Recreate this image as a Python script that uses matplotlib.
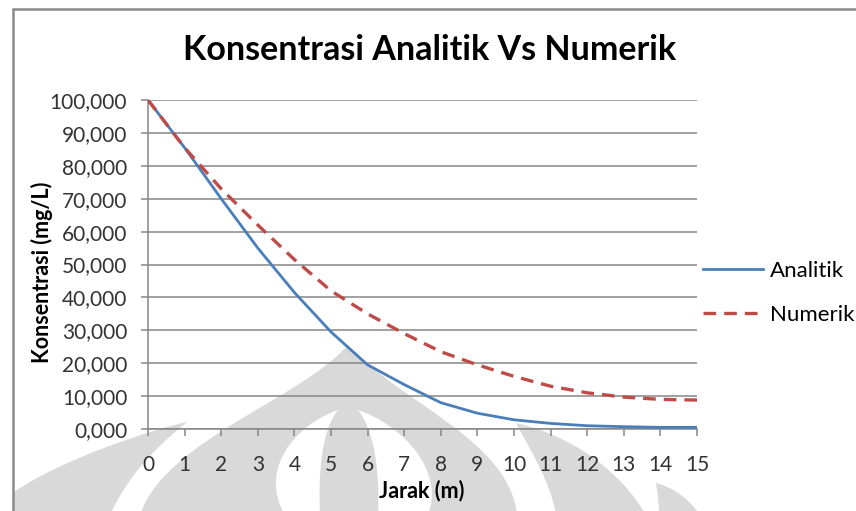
import matplotlib.pyplot as plt
from matplotlib.path import Path
from matplotlib.patches import PathPatch

plt.rcParams['font.family'] = ['Lato', 'DejaVu Sans']

# konsentrasi (mg/L) pada tiap jarak (m)
jarak = [0, 1, 2, 3, 4, 5, 6, 7, 8, 9, 10, 11, 12, 13, 14, 15]
analitik = [100000, 85500, 70000, 55000, 41500, 29500, 19500, 13500,
            8000, 4800, 2800, 1700, 1000, 700, 500, 500]
numerik = [100000, 85500, 73000, 62000, 51500, 42000, 35000, 29000,
           23500, 19500, 16000, 13000, 11000, 9700, 9000, 8800]

y_ticks = list(range(0, 100001, 10000))
y_labels = [f"{v // 1000},000" for v in y_ticks]

GRAY = '#868686'
WM = '#d9d9d9'

fig = plt.figure(figsize=(8.56, 5.11), dpi=100)

# lapisan belakang: logo samar + bingkai, dalam koordinat piksel
bg = fig.add_axes([0, 0, 1, 1], zorder=0)
bg.set_xlim(0, 856)
bg.set_ylim(511, 0)
bg.axis('off')

M, C, L, Z = Path.MOVETO, Path.CURVE4, Path.LINETO, Path.CLOSEPOLY


def blob(verts, codes, color):
    bg.add_patch(PathPatch(Path(verts, codes), facecolor=color,
                           edgecolor='none'))


# kubah tengah (ujung runcing)
blob([(140, 515), (165, 440), (300, 400), (348, 345),
      (396, 400), (510, 440), (517, 515), (140, 515), (140, 515)],
     [M, C, C, C, C, C, C, L, Z], WM)
# kelopak putih di dalam kubah
blob([(338, 410), (295, 425), (258, 470), (285, 515),
      (320, 515), (318, 470), (322, 430), (338, 410), (338, 410)],
     [M, C, C, C, L, C, C, C, Z], 'white')
blob([(358, 410), (374, 430), (380, 470), (378, 515),
      (428, 515), (445, 470), (402, 425), (358, 410), (358, 410)],
     [M, C, C, C, L, C, C, C, Z], 'white')
# sayap kiri dan kanan
blob([(187, 422), (150, 430), (60, 460), (14, 492),
      (14, 515), (110, 515), (130, 470), (165, 440), (187, 422), (187, 422)],
     [M, C, C, C, L, L, C, C, C, Z], WM)
blob([(516, 423), (530, 450), (550, 480), (556, 515),
      (646, 515), (620, 470), (570, 435), (516, 423), (516, 423)],
     [M, C, C, C, L, C, C, C, Z], WM)
blob([(656, 483), (658, 495), (659, 505), (659, 515),
      (700, 515), (690, 500), (675, 488), (656, 483), (656, 483)],
     [M, C, C, C, L, C, C, C, Z], WM)

bg.plot([13, 13, 860], [515, 9, 9], color='#8a8a8a', lw=1.8,
        solid_joinstyle='miter')

ax = fig.add_axes([148 / 856, 1 - 429 / 511, 549 / 856, 329 / 511], zorder=1)
ax.patch.set_alpha(0)

ax.plot(jarak, analitik, color='#4a7ebb', lw=2.0, label='Analitik', zorder=3)
ax.plot(jarak, numerik, color='#be4b48', lw=2.4, dashes=(3.8, 2.4),
        label='Numerik', zorder=3)

ax.set_xlim(0, 15)
ax.set_ylim(0, 100000)
ax.set_xticks(jarak)
ax.set_yticks(y_ticks)
ax.set_yticklabels(y_labels)

ax.yaxis.grid(True, color=GRAY, lw=1.1)
ax.set_axisbelow(True)
for side in ('top', 'right'):
    ax.spines[side].set_visible(False)
for side in ('left', 'bottom'):
    ax.spines[side].set_color(GRAY)
    ax.spines[side].set_linewidth(1.1)

ax.tick_params(axis='both', direction='out', length=5, width=1.1,
               color=GRAY, labelsize=15, labelcolor='#333333')
ax.tick_params(axis='x', pad=14)
ax.tick_params(axis='y', pad=10)

fig.text(430 / 856, 1 - 50 / 511, 'Konsentrasi Analitik Vs Numerik',
         ha='center', va='center', fontsize=24.5, fontweight='bold')
fig.text(42 / 856, 1 - 272 / 511, 'Konsentrasi (mg/L)', rotation=90,
         ha='center', va='center', fontsize=15.5, fontweight='bold')
fig.text(422 / 856, 1 - 491 / 511, 'Jarak (m)', ha='center', va='center',
         fontsize=15.5, fontweight='bold')

ax.legend(loc='center left', bbox_to_anchor=(703 / 856, 1 - 293 / 511),
          bbox_transform=fig.transFigure, frameon=False, fontsize=16,
          borderpad=0, borderaxespad=0, handlelength=2.7,
          handletextpad=0.3, labelspacing=1.1)

fig.savefig('out.png', dpi=100)
